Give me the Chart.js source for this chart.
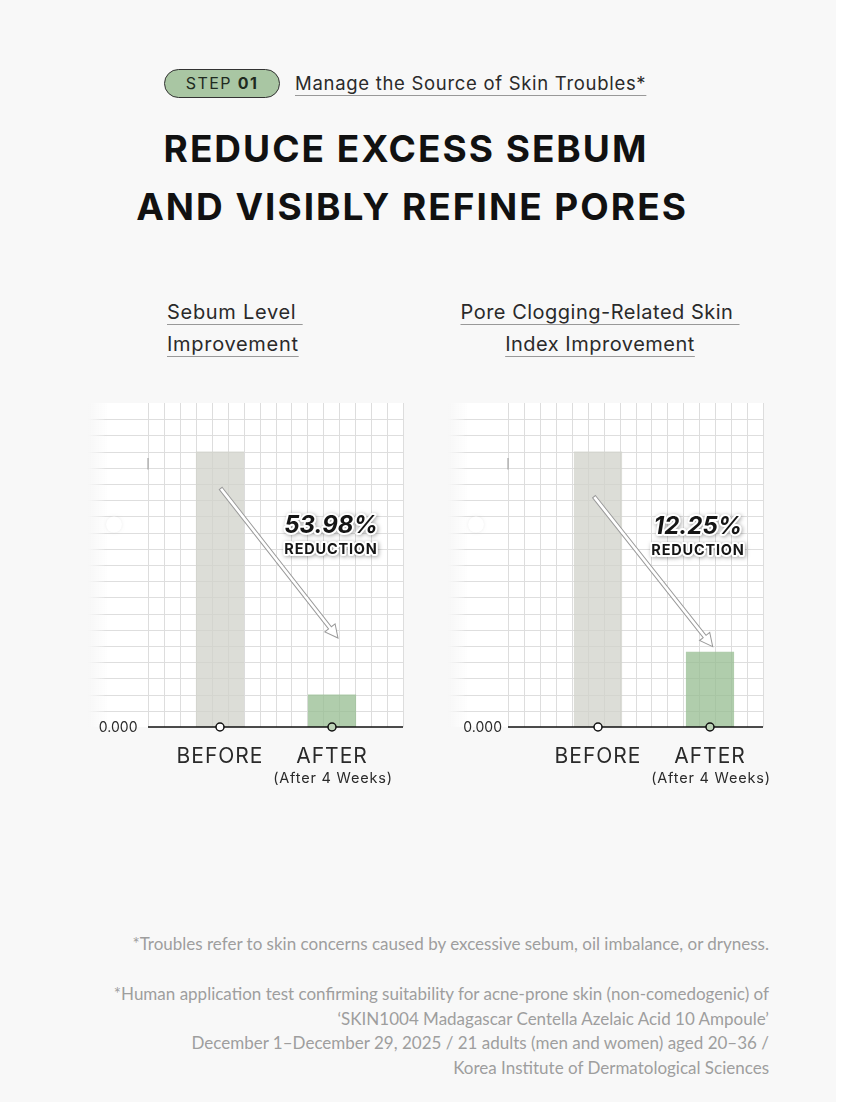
<!DOCTYPE html>
<html>
<head>
<meta charset="utf-8">
<script src="https://cdn.jsdelivr.net/npm/chart.js@4.4.1/dist/chart.umd.min.js"></script>
<style>
  html, body { margin: 0; padding: 0; }
  body { width: 844px; height: 1102px; background: #f8f8f8; position: relative; overflow: hidden; font-family: Inter, sans-serif; color: #222; }
  .edge { position: absolute; left: 836px; top: 0; width: 8px; height: 1102px; background: #fff; }
  .pill { position: absolute; left: 164px; top: 69px; width: 114px; height: 27px; border: 1px solid #333; border-radius: 15px; background: #a9c6a3; text-align: center; font-size: 16px; line-height: 27px; letter-spacing: 1.4px; color: #1f2a1f; }
  .pill b { font-weight: 700; }
  .sub { position: absolute; left: 295px; top: 73px; font-size: 18.5px; line-height: 20px; letter-spacing: 0.7px; color: #2a2a2a; text-decoration: underline; text-decoration-color: #999; text-underline-offset: 5px; text-decoration-thickness: 1px; }
  .title { position: absolute; left: 0; width: 812px; text-align: center; font-weight: 700; font-size: 37px; line-height: 36px; color: #111; letter-spacing: 2px; }
  .ctitle { position: absolute; font-size: 20px; line-height: 32px; color: #2a2a2a; letter-spacing: 0.7px; }
  .ctitle span { text-decoration: underline; text-decoration-color: #999; text-underline-offset: 5px; text-decoration-thickness: 1px; }
  .note { position: absolute; right: 75px; text-align: right; font-family: Lato, sans-serif; font-size: 17px; line-height: 24.5px; color: #9e9e9e; white-space: nowrap; }
  .chart { position: absolute; top: 390px; width: 340px; height: 420px; }
</style>
</head>
<body>
<div class="edge"></div>
<div class="pill">STEP <b>01</b></div>
<div class="sub">Manage the Source of Skin Troubles*</div>
<div class="title" style="top:131px">REDUCE EXCESS SEBUM</div>
<div class="title" style="top:189px;width:824px">AND VISIBLY REFINE PORES</div>

<div class="ctitle" style="left:167px;top:296px"><span>Sebum Level&nbsp;</span><br><span>Improvement</span></div>
<div class="ctitle" style="left:400px;width:400px;top:296px;text-align:center;letter-spacing:0.5px"><span>Pore Clogging-Related Skin&nbsp;</span><br><span>Index Improvement</span></div>

<div class="chart" style="left:80px"><canvas id="sebumChart" width="340" height="420"></canvas></div>
<div class="chart" style="left:440px"><canvas id="poreChart" width="340" height="420"></canvas></div>

<div class="note" style="top:932px">*Troubles refer to skin concerns caused by excessive sebum, oil imbalance, or dryness.</div>
<div class="note" style="top:982px">*Human application test confirming suitability for acne-prone skin (non-comedogenic) of<br>‘SKIN1004 Madagascar Centella Azelaic Acid 10 Ampoule’<br>December 1–December 29, 2025 / 21 adults (men and women) aged 20–36 /<br>Korea Institute of Dermatological Sciences</div>

<script>
const categories = ["BEFORE", "AFTER"];
const subLabels = ["", "(After 4 Weeks)"];
const sebumValues = [17, 2];
const poreValues = [17, 4.65];
const sebumReduction = "53.98%";
const poreReduction = "12.25%";
const yTickLabel = "0.000";
const yMax = 20;

const barColors = ["rgba(208,209,202,0.75)", "rgba(150,188,144,0.75)"];
const markerFills = ["#ffffff", "#bcd3b7"];

function line(ctx, x1, y1, x2, y2) {
  ctx.beginPath();
  ctx.moveTo(x1, y1);
  ctx.lineTo(x2, y2);
  ctx.stroke();
}

function drawArrow(ctx, x1, y1, x2, y2) {
  const ang = Math.atan2(y2 - y1, x2 - x1);
  const len = Math.hypot(x2 - x1, y2 - y1);
  const hw = 1.8, headLen = 13, headW = 6.5;
  ctx.save();
  ctx.translate(x1, y1);
  ctx.rotate(ang);
  ctx.beginPath();
  ctx.moveTo(0, -hw);
  ctx.lineTo(len - headLen, -hw);
  ctx.lineTo(len - headLen, -headW);
  ctx.lineTo(len, 0);
  ctx.lineTo(len - headLen, headW);
  ctx.lineTo(len - headLen, hw);
  ctx.lineTo(0, hw);
  ctx.closePath();
  ctx.fillStyle = "#ffffff";
  ctx.fill();
  ctx.strokeStyle = "#9a9a9a";
  ctx.lineWidth = 1;
  ctx.stroke();
  ctx.restore();
}

const panelPlugin = {
  id: "panel",
  beforeDatasetsDraw(chart, args, opts) {
    const { ctx } = chart;
    const y = chart.scales.y;
    const y0 = y.getPixelForValue(0);
    const yTop = y.getPixelForValue(yMax);
    ctx.save();
    // white panel behind the grid
    const bg = ctx.createLinearGradient(opts.gridLeft, 0, opts.gridLeft + 20, 0);
    bg.addColorStop(0, "rgba(255,255,255,0)");
    bg.addColorStop(1, "rgba(255,255,255,0.9)");
    ctx.fillStyle = bg;
    ctx.fillRect(opts.gridLeft, yTop, opts.axisRight - opts.gridLeft, y0 - yTop);

    // horizontal grid lines, fading on the left
    const hg = ctx.createLinearGradient(opts.gridLeft, 0, opts.gridLeft + 18, 0);
    hg.addColorStop(0, "rgba(222,222,222,0)");
    hg.addColorStop(1, "rgba(222,222,222,1)");
    ctx.strokeStyle = hg;
    ctx.lineWidth = 1;
    for (let v = 1; v < yMax; v++) {
      const py = Math.round(y.getPixelForValue(v)) + 0.5;
      line(ctx, opts.gridLeft, py, opts.axisRight, py);
    }
    // vertical grid lines
    ctx.strokeStyle = "#dddddd";
    const step = (opts.axisRight - opts.axisLeft) / opts.gridCols;
    for (let i = 0; i <= opts.gridCols; i++) {
      const px = Math.round(opts.axisLeft + i * step) + 0.5;
      line(ctx, px, yTop, px, y0);
    }
    // faint marks left over on the y axis
    ctx.strokeStyle = "rgba(150,150,150,0.5)";
    ctx.lineWidth = 2;
    line(ctx, opts.axisLeft, y.getPixelForValue(16.6), opts.axisLeft, y.getPixelForValue(15.9));
    ctx.fillStyle = "#ffffff";
    ctx.shadowColor = "rgba(0,0,0,0.08)";
    ctx.shadowBlur = 3;
    ctx.beginPath();
    ctx.arc(opts.dotX, y.getPixelForValue(12.5), 8, 0, Math.PI * 2);
    ctx.fill();
    ctx.restore();
  },
  afterDatasetsDraw(chart, args, opts) {
    const { ctx } = chart;
    const x = chart.scales.x;
    const y = chart.scales.y;
    const y0 = y.getPixelForValue(0);
    ctx.save();
    // baseline
    ctx.strokeStyle = "#111";
    ctx.lineWidth = 1.6;
    line(ctx, opts.axisLeft, y0, opts.axisRight, y0);

    // tick label
    ctx.fillStyle = "#2a2a2a";
    ctx.font = "14px Inter";
    ctx.textAlign = "right";
    ctx.textBaseline = "alphabetic";
    ctx.fillText(yTickLabel, opts.tickRight, y0 + 5);

    // markers and category labels
    categories.forEach((c, i) => {
      const cx = x.getPixelForValue(i);
      ctx.beginPath();
      ctx.arc(cx, y0, 4, 0, Math.PI * 2);
      ctx.fillStyle = markerFills[i];
      ctx.fill();
      ctx.strokeStyle = "#111";
      ctx.lineWidth = 1.5;
      ctx.stroke();

      ctx.fillStyle = "#2a2a2a";
      ctx.textAlign = "center";
      ctx.font = "21px Inter";
      ctx.letterSpacing = "1px";
      ctx.fillText(c, cx, y0 + 35.5);
      if (subLabels[i]) {
        ctx.font = "14.5px Inter";
        ctx.letterSpacing = "0.8px";
        ctx.fillText(subLabels[i], cx + 1, y0 + 56);
      }
      ctx.letterSpacing = "0px";
    });

    // arrow from BEFORE down to AFTER
    const a = opts.arrow;
    drawArrow(ctx,
      x.getPixelForValue(a.from.index) + a.from.dx, y.getPixelForValue(a.from.value),
      x.getPixelForValue(a.to.index) + a.to.dx, y.getPixelForValue(a.to.value));

    // reduction label
    const l = opts.label;
    const lx = x.getPixelForValue(l.index) + l.dx;
    const ly = y.getPixelForValue(l.value);
    ctx.textAlign = "center";
    ctx.lineJoin = "round";
    [[l.text, "italic 700 24px Inter", 0, "0px"], ["REDUCTION", "700 14.5px Inter", 21, "0.8px"]].forEach(([t, f, off, ls]) => {
      ctx.font = f;
      ctx.letterSpacing = ls;
      ctx.shadowColor = "rgba(0,0,0,0.35)";
      ctx.shadowBlur = 4;
      ctx.shadowOffsetX = 1;
      ctx.shadowOffsetY = 1;
      ctx.strokeStyle = "#ffffff";
      ctx.lineWidth = 4;
      ctx.strokeText(t, lx, ly + off);
      ctx.shadowColor = "rgba(0,0,0,0)";
      ctx.fillStyle = "#151515";
      ctx.fillText(t, lx, ly + off);
    });
    ctx.restore();
  }
};

function makeChart(id, values, pad, panel) {
  return new Chart(document.getElementById(id), {
    type: "bar",
    data: {
      labels: categories,
      datasets: [{
        data: values,
        backgroundColor: barColors,
        borderWidth: 0,
        barPercentage: 0.43,
        categoryPercentage: 1
      }]
    },
    options: {
      responsive: false,
      animation: false,
      layout: { padding: pad },
      scales: {
        x: { display: false },
        y: { display: false, min: 0, max: yMax }
      },
      plugins: {
        legend: { display: false },
        tooltip: { enabled: false },
        panel: panel
      }
    },
    plugins: [panelPlugin]
  });
}

makeChart("sebumChart", sebumValues,
  { left: 84, right: 32, top: 13, bottom: 83 },
  {
    gridLeft: 8, axisLeft: 68, axisRight: 323, gridCols: 16, tickRight: 57.5, dotX: 34,
    arrow: { from: { index: 0, value: 14.73, dx: 0.7 }, to: { index: 1, value: 5.49, dx: 6 } },
    label: { index: 1, dx: -1, value: 11.95, text: sebumReduction }
  });

makeChart("poreChart", poreValues,
  { left: 102, right: 14, top: 13, bottom: 83 },
  {
    gridLeft: 8, axisLeft: 68, axisRight: 323, gridCols: 16, tickRight: 62, dotX: 36,
    arrow: { from: { index: 0, value: 14.22, dx: -4 }, to: { index: 1, value: 4.96, dx: 2.7 } },
    label: { index: 1, dx: -12, value: 11.9, text: poreReduction }
  });
</script>
</body>
</html>
